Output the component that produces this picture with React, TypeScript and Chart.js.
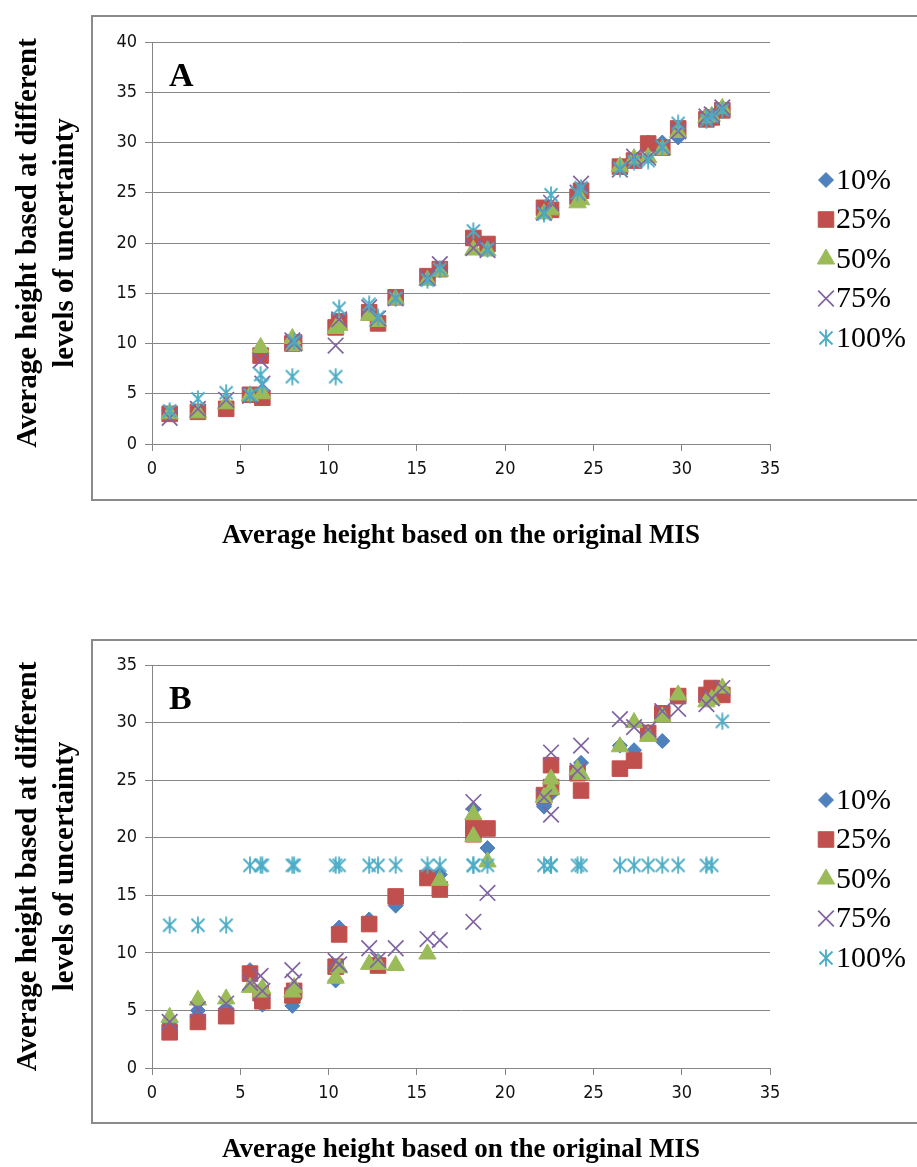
import React, { useEffect, useRef } from 'react';
import { Chart, registerables } from 'chart.js';
import { drawPoint } from 'chart.js/helpers';

Chart.register(...registerables);

// ---------- data ----------
const SERIES_NAMES = ['10%', '25%', '50%', '75%', '100%'];
const COLORS = ['#4F81BD', '#C0504D', '#9BBB59', '#8064A2', '#4BACC6'];
const Y_TITLE = ['Average height based at different', 'levels of uncertainty'];
const X_TITLE = 'Average height based on the original MIS';

// Panel A
const X_A = [1.0, 2.6, 4.2, 5.55, 6.15, 6.25, 7.95, 8.05, 10.4, 10.6, 12.3, 12.8, 13.8, 15.6, 16.3, 18.2, 19.0, 22.2, 22.6, 24.1, 24.3, 26.5, 27.3, 28.1, 28.9, 29.8, 31.4, 31.7, 32.3];
const A10 = [3.1, 3.3, 3.8, 5.0, 8.8, 4.8, 10.0, 10.2, 11.8, 12.2, 13.0, 12.3, 14.5, 16.5, 17.3, 20.0, 19.7, 23.0, 23.5, 24.8, 25.3, 27.5, 28.1, 30.0, 30.0, 30.5, 32.4, 32.6, 33.1];
const A25 = [3.0, 3.2, 3.5, 4.9, 8.8, 4.6, 10.0, 10.1, 11.6, 12.2, 13.1, 12.0, 14.6, 16.7, 17.4, 20.5, 19.9, 23.5, 23.3, 24.6, 25.2, 27.6, 28.2, 29.9, 29.5, 31.4, 32.3, 32.5, 33.2];
const A50 = [3.0, 3.1, 4.0, 4.8, 9.6, 5.0, 10.5, 9.8, 11.5, 11.8, 12.8, 12.2, 14.4, 16.3, 17.2, 19.3, 19.2, 22.9, 23.3, 24.0, 24.3, 27.6, 28.4, 28.5, 29.3, 31.0, 32.5, 32.6, 33.4];
const A75 = [2.6, 3.5, 4.4, 4.8, 8.3, 6.0, 10.3, 10.0, 9.8, 12.4, 13.6, 12.5, 14.5, 16.5, 17.9, 19.5, 19.3, 23.0, 24.0, 25.0, 25.9, 27.3, 28.6, 28.5, 29.5, 31.1, 32.6, 32.8, 33.5];
const A100 = [3.3, 4.5, 5.1, 4.9, 6.9, 5.9, 6.7, 10.2, 6.7, 13.5, 13.9, 12.6, 14.5, 16.3, 17.4, 21.2, 19.4, 22.9, 24.8, 25.0, 25.5, 27.4, 28.1, 28.2, 29.6, 31.9, 32.2, 32.6, 33.2];

// Panel B
const X_B = [1.0, 2.6, 4.2, 5.55, 6.15, 6.25, 7.95, 8.05, 10.4, 10.6, 12.3, 12.8, 13.8, 15.6, 16.3, 18.2, 18.2, 19.0, 22.2, 22.6, 22.6, 24.1, 24.3, 26.5, 27.3, 28.1, 28.9, 29.8, 31.4, 31.7, 32.3];
const B10 = [3.9, 5.0, 5.2, 8.5, 6.8, 5.5, 5.4, 6.0, 7.6, 12.2, 12.9, 9.3, 14.1, 16.8, 16.8, 22.5, 20.5, 19.1, 22.7, 23.8, 24.0, 26.0, 26.5, 28.0, 27.6, 29.2, 28.4, 32.5, 32.4, 32.8, 32.6];
const B25 = [3.1, 4.0, 4.5, 8.2, 6.5, 5.8, 6.3, 6.7, 8.8, 11.6, 12.5, 8.9, 14.9, 16.5, 15.5, 21.0, 20.3, 20.8, 23.7, 26.3, 24.4, 25.6, 24.1, 26.0, 26.7, 29.1, 30.8, 32.3, 32.4, 33.0, 32.4];
const B50 = [4.4, 5.9, 6.0, 7.0, 6.6, 6.9, 6.6, 7.0, 7.8, 8.7, 9.0, 9.0, 8.9, 9.9, 16.3, 22.0, 20.1, 17.9, 23.5, 25.1, 24.2, 25.9, 25.5, 27.9, 30.0, 28.8, 30.5, 32.4, 31.8, 32.0, 33.0];
const B75 = [4.0, 5.1, 5.6, 7.4, 8.0, 6.7, 8.5, 7.5, 9.3, 9.0, 10.4, 9.4, 10.4, 11.2, 11.1, 23.1, 12.7, 15.2, 23.5, 27.4, 22.0, 25.8, 28.0, 30.3, 29.6, 29.4, 31.0, 31.2, 31.6, 32.1, 33.0];
const B100 = [12.4, 12.4, 12.4, 17.6, 17.6, 17.6, 17.6, 17.6, 17.6, 17.6, 17.6, 17.6, 17.6, 17.6, 17.6, 17.6, 17.6, 17.6, 17.6, 17.6, 17.6, 17.6, 17.6, 17.6, 17.6, 17.6, 17.6, 17.6, 17.6, 17.6, 30.1];

const Y_MAX_A = 40;
const Y_MAX_B = 35;
const X_MAX = 35;
const TICK_STEP = 5;

// ---------- styling ----------
const W = 917;
const GRID = '#868686';
const TICK_FONT = { family: "'Liberation Sans Narrow', 'DejaVu Sans Condensed', 'Liberation Sans', sans-serif", size: 18 };
const TITLE_FAMILY = "'Liberation Serif', 'DejaVu Serif', serif";

function makeAsterisk(color: string) {
  const c = document.createElement('canvas');
  c.width = 18;
  c.height = 18;
  const g = c.getContext('2d')!;
  g.strokeStyle = color;
  g.lineWidth = 1.8;
  g.beginPath();
  g.moveTo(2.5, 2.5); g.lineTo(15.5, 15.5);
  g.moveTo(15.5, 2.5); g.lineTo(2.5, 15.5);
  g.moveTo(9, 0.5); g.lineTo(9, 17.5);
  g.stroke();
  return c;
}

type Panel = {
  letter: string;
  xs: number[];
  ys: number[][];
  ymax: number;
  height: number;
  chartTop: number;
  chartBottom: number;
  xTitlePad: number;
  boxTop: number;
  boxBottom: number;
  letterY: number;
  legendTop: number;
};

function buildChart(canvas: HTMLCanvasElement, p: Panel) {
  const aster = makeAsterisk(COLORS[4]);
  const styles: any[] = ['rectRot', 'rect', 'triangle', 'crossRot', aster];
  const radii = [7.5, 11, 10, 11, 9];
  const widths = [1, 1, 1, 1.7, 1];

  const datasets = p.ys.map((vals, i) => ({
    label: SERIES_NAMES[i],
    data: p.xs.map((x, j) => ({ x, y: vals[j] })),
    pointStyle: styles[i],
    pointRadius: radii[i],
    pointHoverRadius: radii[i],
    backgroundColor: COLORS[i],
    borderColor: COLORS[i],
    pointBorderWidth: widths[i],
    borderWidth: widths[i],
    showLine: false,
    order: p.ys.length - i,
  }));

  const framePlugin = {
    id: 'frame',
    beforeDraw(chart: any) {
      const ctx = chart.ctx;
      ctx.save();
      ctx.fillStyle = '#ffffff';
      ctx.fillRect(0, 0, chart.width, chart.height);
      ctx.strokeStyle = '#8a8a8a';
      ctx.lineWidth = 2;
      ctx.strokeRect(92, p.boxTop, W + 10 - 92, p.boxBottom - p.boxTop);
      ctx.restore();
    },
    afterDraw(chart: any) {
      const ctx = chart.ctx;
      ctx.save();
      ctx.fillStyle = '#000';
      ctx.font = `bold 34px ${TITLE_FAMILY}`;
      ctx.textBaseline = 'middle';
      ctx.textAlign = 'left';
      ctx.fillText(p.letter, 169, p.letterY);
      // legend
      const lx = 826;
      const dy = 39.5;
      chart.data.datasets.forEach((ds: any, i: number) => {
        const y = p.legendTop + i * dy;
        ctx.save();
        ctx.fillStyle = ds.backgroundColor;
        ctx.strokeStyle = ds.borderColor;
        ctx.lineWidth = ds.borderWidth;
        drawPoint(ctx, { pointStyle: ds.pointStyle, radius: ds.pointRadius, rotation: 0, borderWidth: ds.borderWidth }, lx, y);
        ctx.restore();
        ctx.fillStyle = '#000';
        ctx.font = `30px ${TITLE_FAMILY}`;
        ctx.textBaseline = 'middle';
        ctx.textAlign = 'left';
        ctx.fillText(ds.label, lx + 10, y + 1);
      });
      ctx.restore();
    },
  };

  return new Chart(canvas, {
    type: 'scatter',
    data: { datasets: datasets as any },
    options: {
      responsive: false,
      animation: false,
      devicePixelRatio: 1,
      layout: { padding: { left: 0, right: W - 770, top: p.chartTop, bottom: 0 } },
      plugins: { legend: { display: false }, tooltip: { enabled: false } },
      scales: {
        x: {
          type: 'linear',
          min: 0,
          max: X_MAX,
          ticks: { stepSize: TICK_STEP, font: TICK_FONT, color: '#111', padding: 8, maxRotation: 0 },
          grid: { drawOnChartArea: false, drawTicks: true, tickLength: 7, color: GRID },
          border: { color: GRID, width: 1 },
          title: {
            display: true,
            text: X_TITLE,
            color: '#000',
            font: { family: TITLE_FAMILY, size: 27, weight: 'bold', lineHeight: 1.2 },
            padding: { top: 0, bottom: p.xTitlePad },
          },
          afterFit: (s: any) => { s.height = p.height - p.chartBottom; },
        },
        y: {
          type: 'linear',
          min: 0,
          max: p.ymax,
          ticks: { stepSize: TICK_STEP, font: TICK_FONT, color: '#111', padding: 8 },
          grid: { color: GRID, tickLength: 7, lineWidth: 1 },
          border: { color: GRID, width: 1 },
          title: {
            display: true,
            text: Y_TITLE,
            color: '#000',
            font: { family: TITLE_FAMILY, size: 29, weight: 'bold', lineHeight: 1.28 },
            padding: { top: 9.5, bottom: 0 },
          },
          afterFit: (s: any) => { s.width = 152; },
        },
      },
    } as any,
    plugins: [framePlugin],
  });
}

const PANEL_A: Panel = {
  letter: 'A',
  xs: X_A,
  ys: [A10, A25, A50, A75, A100],
  ymax: Y_MAX_A,
  height: 583,
  chartTop: 42,
  chartBottom: 444,
  xTitlePad: 31,
  boxTop: 16,
  boxBottom: 500,
  letterY: 77,
  legendTop: 180,
};

const PANEL_B: Panel = {
  letter: 'B',
  xs: X_B,
  ys: [B10, B25, B50, B75, B100],
  ymax: Y_MAX_B,
  height: 584,
  chartTop: 82,
  chartBottom: 485,
  xTitlePad: 1,
  boxTop: 57,
  boxBottom: 540,
  letterY: 117,
  legendTop: 217,
};

function PanelChart({ panel }: { panel: Panel }) {
  const ref = useRef<HTMLCanvasElement | null>(null);
  useEffect(() => {
    if (!ref.current) return;
    const chart = buildChart(ref.current, panel);
    return () => chart.destroy();
  }, [panel]);
  return <canvas ref={ref} width={W} height={panel.height} style={{ display: 'block', width: W, height: panel.height }} />;
}

export default function App() {
  useEffect(() => {
    document.body.style.margin = '0';
    document.body.style.background = '#fff';
  }, []);
  return (
    <div style={{ width: W, height: 1167, background: '#fff', overflow: 'hidden' }}>
      <PanelChart panel={PANEL_A} />
      <PanelChart panel={PANEL_B} />
    </div>
  );
}
